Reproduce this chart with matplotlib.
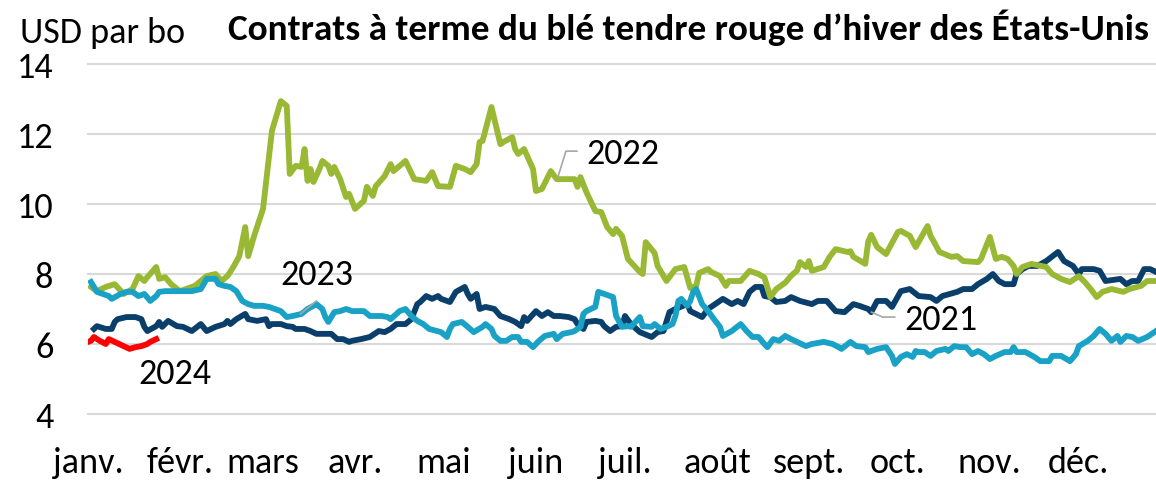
import matplotlib
matplotlib.use("Agg")
import matplotlib.pyplot as plt
from matplotlib import font_manager

# ---------------- data ----------------
months = ["janv.", "févr.", "mars", "avr.", "mai", "juin", "juil.", "août",
          "sept.", "oct.", "nov.", "déc."]
month_start_day = [0, 31, 59, 90, 120, 151, 181, 212, 243, 273, 304, 334]

days_2021 = [2, 3, 6, 8, 9, 10, 13, 16, 18, 19, 20, 23, 24, 25, 27, 30, 32, 35, 38, 40,
             43, 46, 47, 48, 50, 53, 54, 57, 60, 61, 62, 65, 67, 69, 70, 73, 75, 77, 80, 82,
             84, 86, 88, 89, 92, 95, 98, 100, 102, 104, 107, 109, 111, 112, 114, 116, 118, 119, 122, 124,
             127, 128, 129, 131, 132, 134, 137, 139, 142, 144, 146, 147, 148, 151, 153, 155, 157, 159, 162, 164,
             165, 167, 168, 171, 173, 174, 176, 178, 180, 181, 183, 186, 190, 192, 194, 196, 198, 202, 203, 207,
             209, 214, 217, 219, 221, 223, 225, 227, 228, 230, 232, 235, 237, 240, 244, 246, 249, 252, 255, 258,
             260, 263, 264, 266, 269, 271, 274, 277, 280, 284, 286, 288, 293, 295, 298, 300, 303, 305, 307, 309,
             312, 313, 315, 317, 320, 323, 327, 329, 332, 334, 335, 339, 341, 343, 348, 350, 352, 354, 356, 358,
             360]
usd_2021 = [6.43, 6.51, 6.43, 6.43, 6.63, 6.71, 6.77, 6.77, 6.71, 6.49, 6.37, 6.51, 6.63, 6.49, 6.66, 6.51, 6.49, 6.37, 6.57, 6.37,
            6.49, 6.57, 6.66, 6.57, 6.71, 6.86, 6.71, 6.66, 6.71, 6.51, 6.57, 6.57, 6.51, 6.49, 6.43, 6.43, 6.37, 6.29, 6.29, 6.29,
            6.14, 6.14, 6.06, 6.09, 6.14, 6.20, 6.37, 6.34, 6.43, 6.57, 6.57, 6.71, 7.14, 7.20, 7.37, 7.29, 7.37, 7.29, 7.20, 7.49,
            7.63, 7.43, 7.29, 7.43, 7.00, 7.06, 7.00, 6.80, 6.71, 6.63, 6.51, 6.77, 6.66, 6.94, 6.80, 6.91, 6.80, 6.80, 6.77, 6.71,
            6.57, 6.43, 6.63, 6.66, 6.63, 6.51, 6.37, 6.49, 6.51, 6.80, 6.57, 6.34, 6.20, 6.34, 6.37, 6.91, 7.00, 7.14, 6.94, 6.77,
            7.00, 7.29, 7.14, 7.23, 7.14, 7.49, 7.63, 7.63, 7.37, 7.34, 7.20, 7.23, 7.34, 7.23, 7.14, 7.23, 7.23, 6.94, 6.91, 7.14,
            7.09, 7.00, 6.91, 7.23, 7.23, 7.06, 7.51, 7.57, 7.37, 7.34, 7.23, 7.37, 7.49, 7.57, 7.57, 7.71, 7.86, 8.00, 7.80, 7.71,
            7.71, 8.00, 8.14, 8.23, 8.23, 8.37, 8.63, 8.37, 8.23, 8.00, 8.14, 8.14, 8.09, 7.80, 7.86, 7.71, 7.80, 7.80, 8.14, 8.14,
            8.06]

days_2022 = [1, 3, 6, 9, 12, 15, 17, 19, 20, 23, 24, 26, 28, 31, 33, 36, 38, 40, 43, 45,
             47, 49, 51, 53, 54, 56, 59, 62, 65, 67, 68, 70, 72, 73, 74, 75, 76, 78, 79, 81,
             82, 83, 85, 87, 88, 90, 93, 94, 96, 97, 100, 102, 103, 107, 110, 114, 116, 118, 122, 124,
             127, 129, 131, 132, 133, 136, 139, 140, 143, 144, 145, 147, 150, 151, 153, 156, 158, 164, 165, 166,
             168, 171, 173, 175, 177, 178, 180, 182, 186, 187, 188, 191, 192, 195, 198, 201, 203, 205, 206, 209,
             210, 213, 215, 216, 220, 223, 226, 228, 230, 232, 235, 237, 239, 240, 242, 243, 244, 248, 250, 252,
             256, 257, 258, 262, 263, 264, 266, 269, 273, 274, 277, 279, 283, 284, 285, 287, 291, 293, 295, 300,
             301, 304, 306, 308, 310, 312, 313, 315, 318, 323, 325, 328, 331, 334, 336, 338, 340, 342, 345, 349,
             351, 355, 357, 360]
usd_2022 = [7.63, 7.51, 7.63, 7.71, 7.43, 7.57, 7.94, 7.80, 7.91, 8.20, 7.86, 7.91, 7.71, 7.51, 7.57, 7.66, 7.80, 7.94, 8.00, 7.80,
            7.94, 8.20, 8.51, 9.34, 8.51, 9.09, 9.86, 12.09, 12.94, 12.80, 10.86, 11.09, 11.06, 11.57, 10.66, 11.00, 10.63, 11.00, 11.23, 11.09,
            10.86, 11.06, 10.71, 10.20, 10.29, 9.86, 10.09, 10.49, 10.23, 10.51, 10.80, 11.14, 10.94, 11.23, 10.71, 10.66, 10.91, 10.51, 10.49, 11.09,
            11.00, 10.91, 11.14, 11.77, 11.80, 12.77, 11.71, 11.77, 11.91, 11.57, 11.43, 11.57, 11.00, 10.37, 10.43, 10.94, 10.71, 10.71, 10.49, 10.77,
            10.34, 9.80, 9.77, 9.34, 9.14, 9.29, 9.09, 8.43, 8.06, 8.00, 8.91, 8.60, 8.23, 7.80, 8.14, 8.20, 7.60, 7.66, 8.03, 8.14,
            8.06, 7.94, 7.66, 7.80, 7.80, 8.09, 8.00, 7.90, 7.34, 7.57, 7.75, 7.95, 8.10, 8.34, 8.20, 8.37, 8.09, 8.20, 8.49, 8.71,
            8.63, 8.65, 8.49, 8.29, 8.93, 9.12, 8.77, 8.57, 9.20, 9.23, 9.09, 8.77, 9.37, 9.09, 8.94, 8.63, 8.49, 8.51, 8.37, 8.34,
            8.43, 9.06, 8.43, 8.49, 8.43, 8.23, 8.00, 8.20, 8.29, 8.20, 8.00, 7.86, 7.77, 7.94, 7.77, 7.57, 7.34, 7.49, 7.57, 7.49,
            7.57, 7.66, 7.80, 7.80]

days_2023 = [1, 2, 3, 5, 7, 8, 11, 13, 15, 17, 19, 21, 23, 24, 26, 29, 31, 33, 35, 38,
             39, 40, 42, 43, 44, 46, 48, 50, 52, 54, 56, 59, 61, 63, 65, 67, 69, 72, 74, 76,
             77, 79, 80, 81, 82, 83, 85, 87, 89, 93, 95, 99, 101, 102, 104, 105, 107, 109, 111, 113,
             115, 119, 121, 122, 123, 126, 128, 130, 133, 134, 136, 137, 139, 141, 143, 145, 146, 148, 150, 152,
             154, 157, 158, 160, 163, 164, 166, 167, 168, 171, 172, 174, 177, 178, 180, 182, 183, 186, 187, 190,
             191, 193, 195, 197, 198, 199, 200, 202, 203, 204, 205, 207, 209, 211, 213, 214, 217, 220, 222, 224,
             226, 228, 229, 231, 233, 235, 237, 239, 242, 244, 248, 251, 253, 254, 257, 259, 262, 263, 266, 269,
             271, 272, 274, 276, 278, 279, 280, 282, 284, 286, 289, 290, 292, 294, 296, 298, 300, 302, 304, 306,
             309, 311, 312, 313, 316, 319, 321, 324, 325, 328, 331, 333, 334, 337, 339, 341, 343, 345, 347, 348,
             350, 352, 354, 357, 360]
usd_2023 = [7.77, 7.63, 7.49, 7.43, 7.37, 7.29, 7.43, 7.49, 7.49, 7.37, 7.43, 7.23, 7.37, 7.49, 7.51, 7.51, 7.51, 7.51, 7.51, 7.57,
            7.71, 7.86, 7.86, 7.86, 7.71, 7.66, 7.63, 7.51, 7.23, 7.14, 7.09, 7.09, 7.06, 7.00, 6.94, 6.77, 6.80, 6.86, 7.00, 7.09,
            7.14, 7.00, 6.77, 6.63, 6.77, 6.91, 6.94, 7.00, 6.94, 6.94, 6.80, 6.80, 6.77, 6.71, 6.86, 6.94, 7.00, 6.80, 6.66, 6.57,
            6.43, 6.34, 6.20, 6.43, 6.57, 6.63, 6.49, 6.34, 6.49, 6.57, 6.43, 6.23, 6.09, 6.09, 6.20, 6.20, 6.06, 6.06, 5.91, 6.09,
            6.23, 6.29, 6.14, 6.29, 6.34, 6.37, 6.49, 6.86, 6.94, 7.06, 7.49, 7.43, 7.34, 6.80, 6.49, 6.51, 6.49, 6.77, 6.51, 6.49,
            6.57, 6.43, 6.49, 6.57, 6.80, 7.23, 7.29, 7.09, 7.23, 7.49, 7.57, 7.14, 6.94, 6.71, 6.49, 6.23, 6.37, 6.57, 6.37, 6.20,
            6.20, 6.00, 5.91, 6.14, 6.09, 6.23, 6.14, 6.06, 5.94, 6.00, 6.06, 6.00, 5.91, 5.86, 6.06, 5.94, 5.91, 5.77, 5.86, 5.91,
            5.66, 5.43, 5.63, 5.71, 5.63, 5.80, 5.77, 5.77, 5.66, 5.80, 5.86, 5.80, 5.94, 5.91, 5.91, 5.71, 5.80, 5.71, 5.57, 5.66,
            5.77, 5.77, 5.91, 5.77, 5.77, 5.63, 5.51, 5.51, 5.66, 5.66, 5.51, 5.71, 5.94, 6.09, 6.23, 6.43, 6.29, 6.09, 6.23, 6.06,
            6.23, 6.20, 6.09, 6.20, 6.37]

days_2024 = [0, 1, 2, 4, 6, 7, 9, 12, 14, 16, 18, 20, 21, 23]
usd_2024 = [6.06, 6.09, 6.20, 6.09, 6.00, 6.14, 6.06, 5.94, 5.86, 5.91, 5.94, 6.00, 6.06, 6.14]

yticks = [4, 6, 8, 10, 12, 14]

# ---------------- style ----------------
def pick(names):
    avail = {f.name for f in font_manager.fontManager.ttflist}
    for n in names:
        if n in avail:
            return n
    return "DejaVu Sans"

FONT = pick(["Carlito", "Lato", "Liberation Sans"])
plt.rcParams["font.family"] = [FONT, "DejaVu Sans"]

C2021 = "#0B3F6B"
C2022 = "#99B833"
C2023 = "#19A2C6"
C2024 = "#FF0000"
GRID = "#D9D9D9"
LEADER = "#A6A6A6"
FS = 26

W, H = 1156, 481
fig = plt.figure(figsize=(W / 100, H / 100), dpi=100)
ax = fig.add_axes([88 / W, 1 - 415 / H, (W - 88) / W, 350 / H])

lw = 4.2
ax.plot(days_2021, usd_2021, color=C2021, lw=lw, solid_joinstyle="round", zorder=3)
ax.plot(days_2022, usd_2022, color=C2022, lw=lw, solid_joinstyle="round", zorder=4)
ax.plot(days_2023, usd_2023, color=C2023, lw=lw, solid_joinstyle="round", zorder=5)
ax.plot(days_2024, usd_2024, color=C2024, lw=lw, solid_joinstyle="round", zorder=6)

ax.set_xlim(0, 360)
ax.set_ylim(4, 14)
ax.set_yticks(yticks)
ax.set_yticklabels([str(v) for v in yticks])
ax.set_xticks(month_start_day)
ax.set_xticklabels(months)
ax.yaxis.grid(True, color=GRID, lw=1.5, zorder=0)
for gl in ax.yaxis.get_gridlines():
    gl.set_clip_on(False)
ax.set_axisbelow(True)
ax.tick_params(axis="y", length=0, pad=25, labelsize=FS)
ax.tick_params(axis="x", length=0, pad=23, labelsize=FS)
for s in ax.spines.values():
    s.set_visible(False)

# series labels with leader lines
ax.plot([164.8, 161.1, 158.4], [11.51, 11.51, 10.77], color=LEADER, lw=1.2, zorder=7)
ax.text(180.3, 11.46, "2022", fontsize=FS, ha="center", va="center", zorder=8)
ax.plot([71.6, 77.0], [6.86, 7.23], color=LEADER, lw=1.2, zorder=7)
ax.text(77.3, 8.0, "2023", fontsize=FS, ha="center", va="center", zorder=8)
ax.plot([264.1, 267.8, 271.9], [6.91, 6.77, 6.77], color=LEADER, lw=1.2, zorder=7)
ax.text(287.4, 6.71, "2021", fontsize=FS, ha="center", va="center", zorder=8)
ax.text(29.4, 5.17, "2024", fontsize=FS, ha="center", va="center", zorder=8)

fig.text(20 / W, 1 - 43 / H, "USD par bo", fontsize=FS, ha="left", va="baseline")
fig.text(689 / W, 1 - 40 / H, "Contrats à terme du blé tendre rouge d’hiver des États-Unis",
         fontsize=26.8, fontweight="bold", ha="center", va="baseline")

fig.savefig("out.png", dpi=100)
